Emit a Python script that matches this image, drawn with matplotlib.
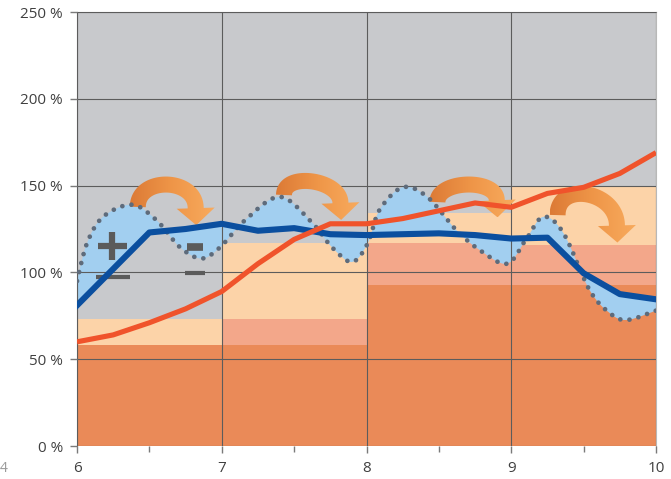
import numpy as np
import matplotlib
matplotlib.use("Agg")
import matplotlib.pyplot as plt
from matplotlib.path import Path
from matplotlib.patches import PathPatch, Polygon
from matplotlib.colors import LinearSegmentedColormap
from matplotlib.ticker import FuncFormatter, MultipleLocator

plt.rcParams['font.family'] = ['Open Sans', 'DejaVu Sans']

# Step bands per year interval (cumulative tops, in %)
seg_start = [6, 7, 8, 9]
base_top = [58, 58, 92.5, 92.5]
mid_top = [58, 73, 117, 116]
upper_top = [73, 117, 134, 150]

# Blue line
blue_x = [6, 6.25, 6.5, 6.75, 7, 7.25, 7.5, 7.75, 8, 8.25, 8.5, 8.75, 9, 9.25, 9.5, 9.75, 10]
blue_y = [81, 102, 123, 125, 128, 124, 125.5, 122, 121.5, 122, 122.5, 121.5, 119.5, 120, 99.5, 87.5, 84.5]

# Red line
red_x = [6, 6.25, 6.5, 6.75, 7, 7.25, 7.5, 7.75, 8, 8.25, 8.5, 8.75, 9, 9.25, 9.5, 9.75, 10]
red_y = [60, 64, 71, 79, 89, 105, 119, 128, 128, 131, 135.5, 140, 137.5, 145.5, 149, 157, 169]

# Oscillating dotted curve
wave_x = [6.0, 6.07, 6.18, 6.38, 6.55, 6.71, 6.86, 6.99, 7.16, 7.4, 7.62, 7.76, 7.9, 8.01,
          8.09, 8.25, 8.42, 8.62, 8.78, 8.97, 9.1, 9.22, 9.36, 9.54, 9.68, 9.8, 10.0]
wave_y = [95, 117, 132, 139, 130, 114.6, 108, 114.6, 130, 143.5, 129, 114.6, 106, 117,
          136, 149, 143.5, 124.4, 113, 105, 118.7, 132, 122.7, 90, 76.6, 72.6, 78]

# Curved arrows: tail foot, head base and arc crest (x, %)
arrow_tail_x = [6.42, 7.43, 8.49, 9.32]
arrow_tail_y = [137.7, 144.6, 140.5, 133.0]
arrow_head_x = [6.82, 7.82, 8.90, 9.73]
arrow_head_y = [137.0, 140.0, 141.5, 127.0]
arrow_top_y = [150.6, 152.4, 150.6, 144.9]

y_ticks = [0, 50, 100, 150, 200, 250]
x_ticks = [6, 7, 8, 9, 10]

C_BASE = '#ea8a58'
C_MID = '#f3a78a'
C_UP = '#fcd3a8'
C_BG = '#c8c9cc'
C_BLUE = '#0b4f9f'
C_RED = '#f0532b'
C_FILL = '#a2cff0'
C_DOT = '#5e6b7b'
C_GRID = '#5c5c5c'

fig = plt.figure(figsize=(6.71, 4.79), dpi=100)
ax = fig.add_axes([77 / 671, 1 - 446 / 479, (656 - 77) / 671, (446 - 12) / 479])
ax.set_facecolor(C_BG)
ax.set_xlim(6, 10)
ax.set_ylim(0, 250)

# stacked step bands
heights_mid = [m - b for m, b in zip(mid_top, base_top)]
heights_up = [u - m for u, m in zip(upper_top, mid_top)]
ax.bar(seg_start, base_top, width=1, align='edge', color=C_BASE, zorder=1, linewidth=0)
ax.bar(seg_start, heights_mid, bottom=base_top, width=1, align='edge', color=C_MID, zorder=1, linewidth=0)
ax.bar(seg_start, heights_up, bottom=mid_top, width=1, align='edge', color=C_UP, zorder=1, linewidth=0)


def smooth_path_parts(xs, ys):
    """Catmull-Rom curve through the points, as cubic Bezier path segments."""
    P = np.column_stack([xs, ys]).astype(float)
    n = len(P)
    verts = [P[0]]
    codes = [Path.MOVETO]
    for i in range(n - 1):
        p0 = P[i - 1] if i > 0 else P[i]
        p1 = P[i]
        p2 = P[i + 1]
        p3 = P[i + 2] if i + 2 < n else P[i + 1]
        c1 = p1 + (p2 - p0) / 6.0
        c2 = p2 - (p3 - p1) / 6.0
        verts += [c1, c2, p2]
        codes += [Path.CURVE4] * 3
    return verts, codes


wv, wc = smooth_path_parts(wave_x, wave_y)

# shaded area between the dotted curve and the blue line
fv = list(wv) + [np.array([x, y]) for x, y in zip(blue_x[::-1], blue_y[::-1])] + [wv[0]]
fc = list(wc) + [Path.LINETO] * len(blue_x) + [Path.CLOSEPOLY]
ax.add_patch(PathPatch(Path(np.array(fv), fc), facecolor=C_FILL, edgecolor='none', zorder=2))


def arch_arrow_outline(tail, head, top, band=16.0, head_half=19.0, head_len=17.0):
    """Outline (data coords) of an arched arrow drawn in pixel space."""
    to_px = ax.transData.transform
    T = to_px(tail)
    H = to_px(head)
    Y = to_px((tail[0], top))[1]
    h = (Y - 0.5 * (T[1] + H[1])) / 0.75
    C1 = np.array([T[0], T[1] + h])
    C2 = np.array([H[0], H[1] + h])
    t = np.linspace(0, 1, 60)[:, None]
    pts = ((1 - t) ** 3) * T + 3 * ((1 - t) ** 2) * t * C1 + 3 * (1 - t) * t ** 2 * C2 + t ** 3 * H
    d = np.gradient(pts, axis=0)
    d /= np.linalg.norm(d, axis=1)[:, None]
    nrm = np.column_stack([-d[:, 1], d[:, 0]])
    left = pts + nrm * band / 2
    right = pts - nrm * band / 2
    dend = d[-1]
    nend = nrm[-1]
    head_pts = np.array([H + nend * head_half, H + dend * head_len, H - nend * head_half])
    outline = np.vstack([left, head_pts, right[::-1]])
    return ax.transData.inverted().transform(outline)


# curved orange arrows with a left-to-right colour gradient
cmap = LinearSegmentedColormap.from_list('arr', ['#dc7a36', '#ef9648', '#f8ab5e'])
grad = np.linspace(0, 1, 256).reshape(1, -1)
for xt, yt, xh, yh, yc in zip(arrow_tail_x, arrow_tail_y, arrow_head_x, arrow_head_y, arrow_top_y):
    outline = arch_arrow_outline((xt, yt), (xh, yh), yc)
    poly = Polygon(outline, closed=True, facecolor='none', edgecolor='none', zorder=3)
    ax.add_patch(poly)
    x0, y0 = outline.min(axis=0)
    x1, y1 = outline.max(axis=0)
    im = ax.imshow(grad, extent=[x0, x1, y0, y1], aspect='auto', cmap=cmap, zorder=3,
                   interpolation='bilinear')
    im.set_clip_path(poly)

# dotted oscillating curve
ax.add_patch(PathPatch(Path(np.array(wv), wc), facecolor='none', edgecolor=C_DOT,
                       linewidth=3.4, linestyle=(0, (0.01, 1.95)), capstyle='round', zorder=4))

# plus / minus markers
sign_kw = dict(color='#5b5b5b', solid_capstyle='butt', zorder=4.5)
ax.plot([6.145, 6.345], [115.2, 115.2], lw=4.5, **sign_kw)
ax.plot([6.24, 6.24], [107.0, 123.0], lw=4.5, **sign_kw)
ax.plot([6.13, 6.366], [97.4, 97.4], lw=3.0, **sign_kw)
ax.plot([6.76, 6.87], [114.6, 114.6], lw=5.5, **sign_kw)
ax.plot([6.745, 6.884], [99.6, 99.6], lw=3.0, **sign_kw)

ax.plot(blue_x, blue_y, color=C_BLUE, lw=4.4, solid_joinstyle='round', zorder=5)
ax.plot(red_x, red_y, color=C_RED, lw=3.7, solid_joinstyle='round', solid_capstyle='butt', zorder=6)

ax.set_xlim(6, 10)
ax.set_ylim(0, 250)
ax.set_yticks(y_ticks)
ax.set_xticks(x_ticks)
ax.xaxis.set_minor_locator(MultipleLocator(0.5))
ax.yaxis.set_major_formatter(FuncFormatter(lambda v, p: f"{int(v)} %"))
ax.set_axisbelow(False)
ax.grid(True, which='major', color=C_GRID, lw=0.8)
for g in ax.get_xgridlines() + ax.get_ygridlines():
    g.set_zorder(2.5)

ax.tick_params(axis='y', which='major', length=5, width=1, color='#7a7a7a', pad=5,
               labelsize=11, labelcolor='#404040')
ax.tick_params(axis='x', which='major', length=5, width=1, color='#7a7a7a', pad=6,
               labelsize=11, labelcolor='#404040')
ax.tick_params(axis='x', which='minor', length=4, width=1, color='#7a7a7a')

ax.spines['bottom'].set_visible(False)
ax.spines['left'].set_color('#7a7a7a')
ax.spines['top'].set_color('#7a7a7a')
ax.spines['right'].set_color('#b8b8b8')

fig.text(0.0, 1 - 469 / 479, '4', fontsize=10, color='#9a9a9a', ha='left', va='center')

fig.savefig('out.png', dpi=100)
